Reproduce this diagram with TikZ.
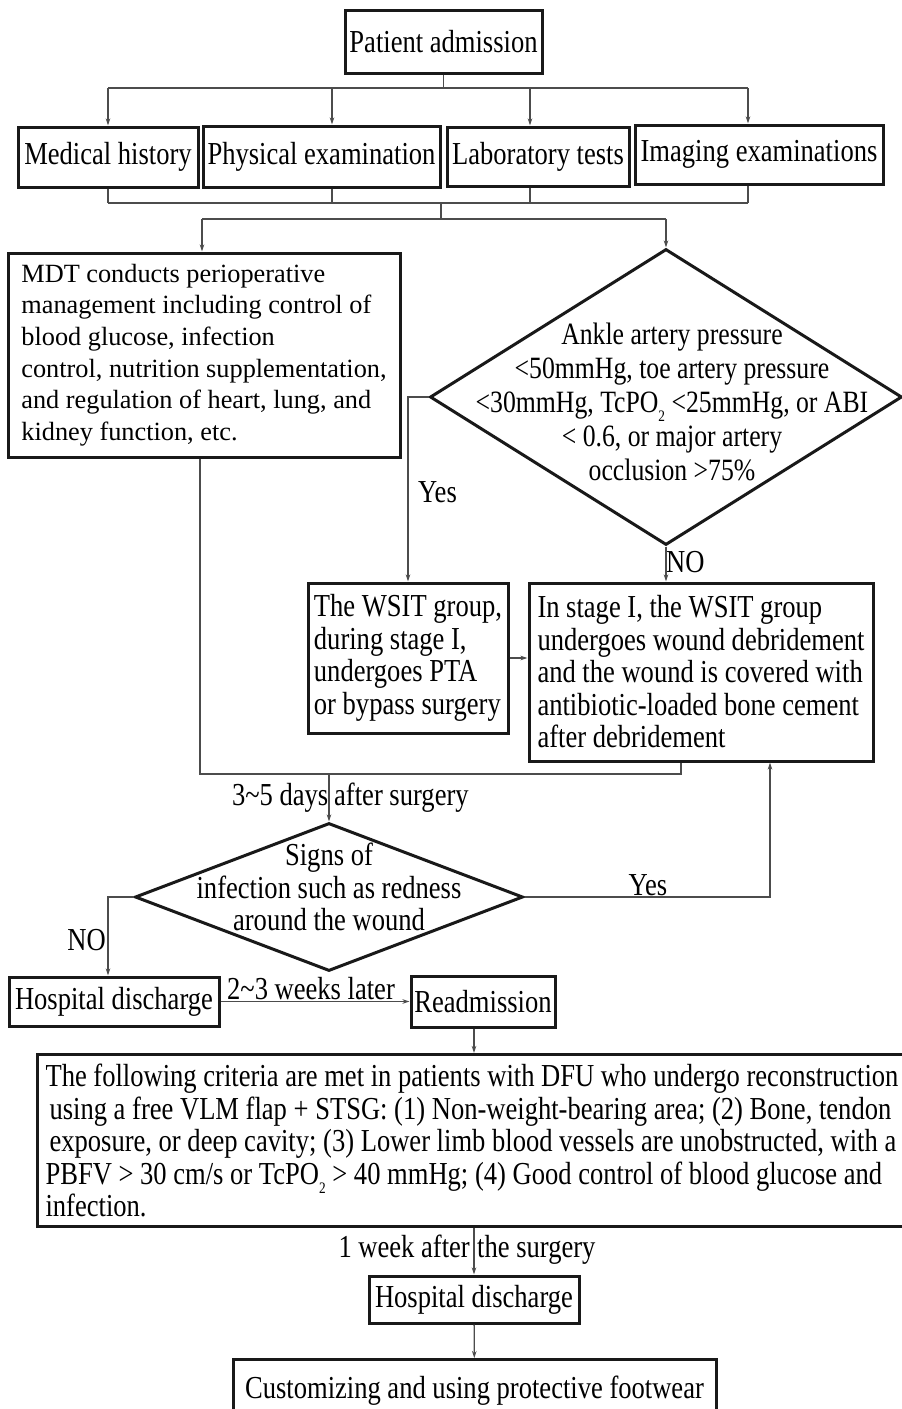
\documentclass[tikz,border=0pt]{standalone}
\usepackage{fontspec}
\setmainfont{Liberation Serif}
\newfontfamily\narrowfont[FakeStretch=0.83]{Liberation Serif}
\usepackage{tikz}
\usetikzlibrary{arrows.meta,positioning,shapes.geometric}

\newcommand{\lowtwo}{\smash{\raisebox{-0.3em}{\fontsize{16}{16}\selectfont 2}}}

\begin{document}
\begin{tikzpicture}[x=1pt, y=-1pt, >={Stealth[length=7pt,width=4.5pt]},
    font=\narrowfont\fontsize{32}{32.5}\selectfont]

  \tikzstyle{box}=[draw=black!90, line width=3pt, fill=white, inner sep=3pt, align=center]
  \tikzstyle{decision}=[diamond, draw=black!90, line width=3pt, inner sep=0pt]
  \tikzstyle{link}=[draw=black!70, line width=1.3pt]
  \tikzstyle{tag}=[inner sep=0pt]

  \useasboundingbox (0,0) rectangle (902,1409);

  \node[box, minimum width=197, minimum height=63] (adm)  at (443.5,41.5)  {Patient admission};
  \node[box, minimum width=180, minimum height=60] (hist) at (108,157)     {Medical history};
  \node[box, minimum width=237, minimum height=61] (phys) at (321.5,156.5) {Physical examination};
  \node[box, minimum width=182, minimum height=59] (lab)  at (538,156.5)   {Laboratory tests};
  \node[box, minimum width=248, minimum height=59] (img)  at (759,154.5)   {Imaging examinations};

  \node[box, align=left, font=\rmfamily\fontsize{26.3}{31.6}\selectfont,
        minimum width=392, minimum height=204] (mdt) at (204,355)
       {MDT conducts perioperative\\ management including control of\\ blood glucose, infection\\
        control, nutrition supplementation,\\ and regulation of heart, lung, and\\ kidney function, etc.};

  \node[decision, minimum width=472, minimum height=296] (art) at (666,397) {};
  \node[font=\narrowfont\fontsize{31}{34}\selectfont, align=center] (arttext) at (672,402)
       {Ankle artery pressure\\ <50mmHg, toe artery pressure\\ <30mmHg, TcPO\lowtwo{} <25mmHg, or ABI\\
        < 0.6, or major artery\\ occlusion >75\%};

  \node[box, align=left, minimum width=200, minimum height=150] (wsit) at (408,658)
       {The WSIT group,\\ during stage I,\\ undergoes PTA\\ or bypass surgery};
  \node[box, align=left, minimum width=344, minimum height=178] (deb) at (701,672)
       {In stage I, the WSIT group\\ undergoes wound debridement\\ and the wound is covered with\\
        antibiotic-loaded bone cement\\ after debridement};

  \node[decision, minimum width=388, minimum height=148] (inf) at (329,897) {};
  \node[align=center] (inftext) at (329,887) {Signs of\\ infection such as redness\\ around the wound};

  \node[box, minimum width=210, minimum height=49] (dis1)  at (114,1001.5) {Hospital discharge};
  \node[box, minimum width=144, minimum height=51] (readm) at (483,1001.5) {Readmission};

  \node[box, align=left, anchor=north west, minimum width=869, minimum height=172] (crit) at (36,1053)
       {The following criteria are met in patients with DFU who undergo reconstruction\\
        \hspace{4pt}using a free VLM flap + STSG: (1) Non-weight-bearing area; (2) Bone, tendon\\
        \hspace{4pt}exposure, or deep cavity; (3) Lower limb blood vessels are unobstructed, with a\\
        PBFV > 30 cm/s or TcPO\lowtwo{} > 40 mmHg; (4) Good control of blood glucose and\\
        infection.};

  \node[box, minimum width=210, minimum height=47] (dis2) at (474,1299.5) {Hospital discharge};
  \node[box, anchor=north, minimum width=483, minimum height=62] (foot) at (474.5,1358)
       {Customizing and using protective footwear};

  % labels on the connectors
  \node[tag, anchor=base west] (yes1) at (418,502)  {Yes};
  \node[tag, anchor=base west] (no1)  at (666,572)  {NO};
  \node[tag, anchor=base east] (days) at (328.5,805) {3\textasciitilde5 days};
  \node[tag, anchor=base west] (aftr) at (334,805)  {after surgery};
  \node[tag, anchor=base]      (yes2) at (648,895)  {Yes};
  \node[tag, anchor=base east] (no2)  at (106,950)  {NO};
  \node[tag, anchor=base]      (wks)  at (311,999.5) {2\textasciitilde3 weeks later};
  \node[tag, anchor=base east] (wk1)  at (470,1257) {1 week after};
  \node[tag, anchor=base west] (wk2)  at (477,1257) {the surgery};

  % buses
  \coordinate (t1) at (108,88);  \coordinate (t2) at (332,88);
  \coordinate (t3) at (530,88);  \coordinate (t4) at (748,88);
  \coordinate (b1) at (108,203); \coordinate (b2) at (332,203);
  \coordinate (b3) at (530,203); \coordinate (b4) at (748,203);
  \coordinate (b0) at (441,203); \coordinate (s0) at (441,219);
  \coordinate (s1) at (202,219); \coordinate (s2) at (666,219);
  \coordinate (m1) at (200,774); \coordinate (m2) at (681,774);
  \coordinate (yescol) at (770,897);
  \coordinate (nocol) at (108,897);

  \draw[link] (adm.south) -- (adm.south |- t1);
  \draw[link] (t1) -- (t4);
  \draw[link,->] (t1) -- (hist.north -| t1);
  \draw[link,->] (t2) -- (phys.north -| t2);
  \draw[link,->] (t3) -- (lab.north -| t3);
  \draw[link,->] (t4) -- (img.north -| t4);

  \draw[link] (hist.south -| b1) -- (b1);
  \draw[link] (phys.south -| b2) -- (b2);
  \draw[link] (lab.south -| b3) -- (b3);
  \draw[link] (img.south -| b4) -- (b4);
  \draw[link] (b1) -- (b4);
  \draw[link] (b0) -- (s0);
  \draw[link] (s1) -- (s2);
  \draw[link,->] (s1) -- (mdt.north -| s1);
  \draw[link,->] (s2) -- (art.north);

  \draw[link,->] (art.west) -| (wsit.north);
  \draw[link,->] (art.south) -- (art.south |- deb.north);
  \draw[link,->] (wsit) -- (wsit -| deb.west);

  \draw[link] (mdt.south -| m1) -- (m1) -- (m2) -- (deb.south -| m2);
  \draw[link,->] (inf.north |- m1) -- (inf.north);

  \draw[link,->] (inf.east) -- (yescol) -- (yescol |- deb.south);
  \draw[link,->] (inf.west) -- (nocol) -- (nocol |- dis1.north);

  \draw[link,->] (dis1) -- (readm);
  \draw[link,->] (readm.south -| dis2.north) -- (crit.north -| dis2.north);
  \draw[link,->] (crit.south -| dis2.north) -- (dis2.north);
  \draw[link,->] (dis2) -- (foot);
\end{tikzpicture}
\end{document}
